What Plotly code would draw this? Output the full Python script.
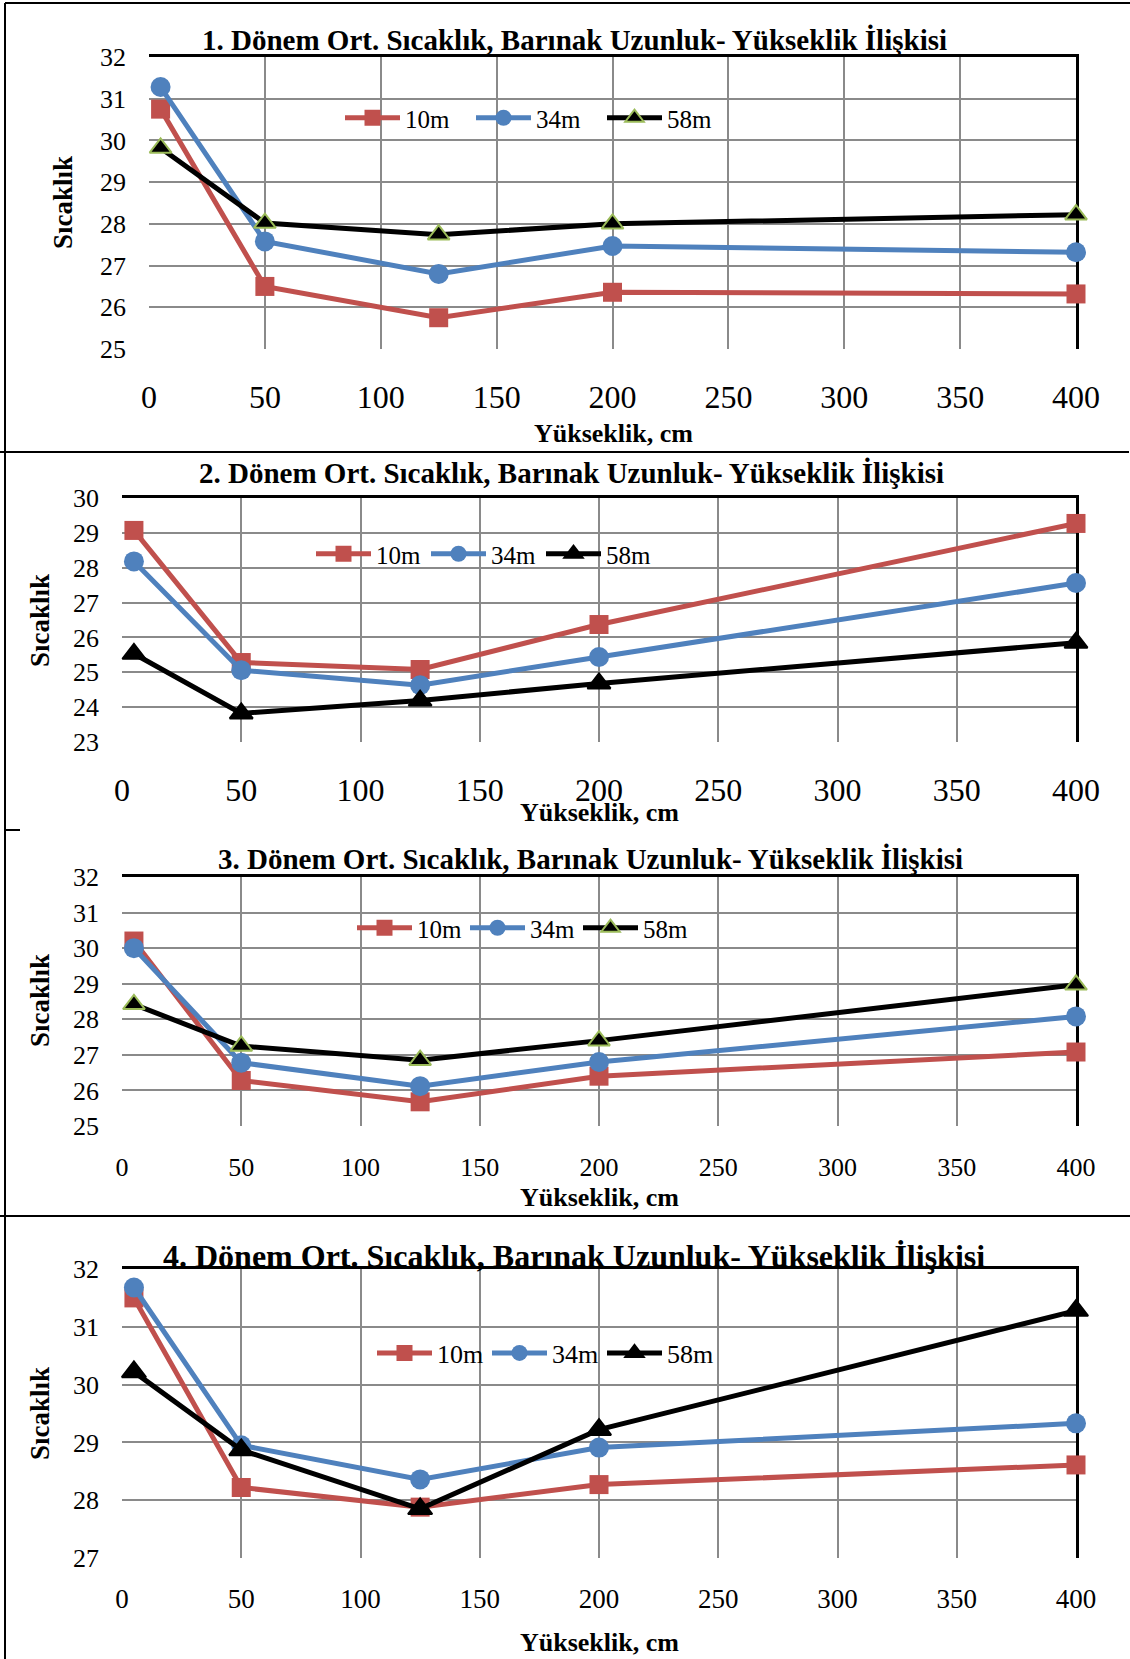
import plotly.graph_objects as go

# Measurement heights (cm) shared by all four periods
heights = [5, 50, 125, 200, 400]
series_names = ["10m", "34m", "58m"]
x_tick_values = [0, 50, 100, 150, 200, 250, 300, 350, 400]

# Period 1 mean temperature by shelter length
p1_10m = [30.75, 26.50, 25.75, 26.36, 26.32]
p1_34m = [31.28, 27.58, 26.80, 27.47, 27.32]
p1_58m = [29.82, 28.02, 27.74, 28.00, 28.22]

# Period 2
p2_10m = [29.07, 25.28, 25.08, 26.37, 29.27]
p2_34m = [28.18, 25.06, 24.63, 25.44, 27.56]
p2_58m = [25.53, 23.82, 24.19, 24.68, 25.85]

# Period 3
p3_10m = [30.20, 26.28, 25.68, 26.40, 27.08]
p3_34m = [30.00, 26.78, 26.12, 26.80, 28.08]
p3_58m = [28.42, 27.25, 26.85, 27.40, 28.97]

# Period 4
p4_10m = [31.50, 28.22, 27.88, 28.27, 28.61]
p4_34m = [31.68, 28.95, 28.36, 28.91, 29.33]
p4_58m = [30.22, 28.87, 27.85, 29.22, 31.28]

titles = [
    "1. Dönem Ort. Sıcaklık, Barınak Uzunluk- Yükseklik İlişkisi",
    "2. Dönem Ort. Sıcaklık, Barınak Uzunluk- Yükseklik İlişkisi",
    "3. Dönem Ort. Sıcaklık, Barınak Uzunluk- Yükseklik İlişkisi",
    "4. Dönem Ort. Sıcaklık, Barınak Uzunluk- Yükseklik İlişkisi",
]
y_title = "Sıcaklık"
x_title = "Yükseklik, cm"

W, H = 1130, 1659
FONT = "Liberation Serif, Times New Roman, serif"
RED, BLUE, BLACK, GREEN = "#C0504D", "#4F81BD", "#000000", "#9BBB59"
GRID = "#8A8A8A"


def fx(p):
    return p / W


def fy(p):
    return 1 - p / H


# page layout of each panel (pixel boxes and styling)
panels = [
    dict(data=(p1_10m, p1_34m, p1_58m), yr=(25, 32), box=(149, 1076, 57, 349),
         tri_line=GREEN, tri_size=19, xfont=32, yfont=26, xstand=26,
         title_xy=(574, 40), title_size=29, ytitle_xy=(63, 203), xtitle_xy=(613, 433),
         legend_xy=(340, 118), entry=61, legfont=25),
    dict(data=(p2_10m, p2_34m, p2_58m), yr=(23, 30), box=(122, 1076, 498, 742),
         tri_line=BLACK, tri_size=20, xfont=32, yfont=26, xstand=26,
         title_xy=(571, 473), title_size=29, ytitle_xy=(40, 621), xtitle_xy=(599, 812),
         legend_xy=(311, 554), entry=None, legfont=25),
    dict(data=(p3_10m, p3_34m, p3_58m), yr=(25, 32), box=(122, 1076, 877, 1126),
         tri_line=GREEN, tri_size=19, xfont=26, yfont=26, xstand=23,
         title_xy=(590, 859), title_size=29, ytitle_xy=(40, 1001), xtitle_xy=(599, 1197),
         legend_xy=(352, 928), entry=43, legfont=25),
    dict(data=(p4_10m, p4_34m, p4_58m), yr=(27, 32), box=(122, 1076, 1269, 1558),
         tri_line=BLACK, tri_size=21, xfont=27, yfont=26, xstand=22,
         title_xy=(574, 1256), title_size=32, ytitle_xy=(40, 1414), xtitle_xy=(599, 1642),
         legend_xy=(372, 1353), entry=45, legfont=26),
]

fig = go.Figure()
annotations = []
shapes = []
layout_axes = {}

for i, pn in enumerate(panels):
    n = "" if i == 0 else str(i + 1)
    xa, ya = "x" + n, "y" + n
    ov = str(i + 5)                  # overlay axes carrying the black top/right frame
    leg = "legend" + n
    left, right, top, bottom = pn["box"]
    s10, s34, s58 = pn["data"]

    # empty trace so the overlay subplot (and its frame lines) is created
    fig.add_trace(go.Scatter(x=[None], y=[None], mode="lines", showlegend=False,
                             hoverinfo="skip", xaxis="x" + ov, yaxis="y" + ov, legend=leg))

    styles = [
        dict(line=dict(color=RED, width=5),
             marker=dict(symbol="square", size=19, color=RED)),
        dict(line=dict(color=BLUE, width=5),
             marker=dict(symbol="circle", size=20, color=BLUE)),
        dict(line=dict(color=BLACK, width=5),
             marker=dict(symbol="triangle-up", size=pn["tri_size"], color=BLACK,
                         line=dict(color=pn["tri_line"], width=2))),
    ]
    for name, vals, st in zip(series_names, (s10, s34, s58), styles):
        fig.add_trace(go.Scatter(
            x=heights, y=vals, name=name, mode="lines+markers",
            line=st["line"], marker=st["marker"], cliponaxis=False,
            xaxis=xa, yaxis=ya, legend=leg,
        ))

    layout_axes["xaxis" + n] = dict(
        domain=[fx(left), fx(right)], anchor=ya, range=[0, 400],
        tickvals=x_tick_values, showgrid=True, gridcolor=GRID, gridwidth=2,
        zeroline=False, showline=False, ticks="", automargin=False,
        tickfont=dict(family=FONT, size=pn["xfont"], color="black"),
        ticklabelstandoff=pn["xstand"], fixedrange=True,
    )
    layout_axes["yaxis" + n] = dict(
        domain=[fy(bottom), fy(top)], anchor=xa, range=list(pn["yr"]),
        dtick=1, showgrid=True, gridcolor=GRID, gridwidth=2,
        zeroline=False, showline=False, ticks="", automargin=False,
        tickfont=dict(family=FONT, size=pn["yfont"], color="black"),
        ticklabelstandoff=22, fixedrange=True,
    )
    # top and right edges of the plot area are drawn in black
    layout_axes["xaxis" + ov] = dict(
        overlaying=xa, anchor="y" + ov, side="top", range=[0, 400], automargin=False,
        showline=True, linecolor="black", linewidth=2.5, layer="below traces",
        showgrid=False, zeroline=False, showticklabels=False, ticks="", fixedrange=True,
    )
    layout_axes["yaxis" + ov] = dict(
        overlaying=ya, anchor="x" + ov, side="right", range=list(pn["yr"]), automargin=False,
        showline=True, linecolor="black", linewidth=2.5, layer="below traces",
        showgrid=False, zeroline=False, showticklabels=False, ticks="", fixedrange=True,
    )

    legend_cfg = dict(
        x=fx(pn["legend_xy"][0]), y=fy(pn["legend_xy"][1]),
        xanchor="left", yanchor="middle", orientation="h",
        bgcolor="rgba(0,0,0,0)", borderwidth=0, itemwidth=55,
        font=dict(family=FONT, size=pn["legfont"], color="black"), traceorder="normal",
    )
    if pn["entry"]:
        legend_cfg.update(entrywidth=pn["entry"], entrywidthmode="pixels")
    layout_axes[leg] = legend_cfg

    tx, ty = pn["title_xy"]
    annotations.append(dict(text="<b>" + titles[i] + "</b>", x=fx(tx), y=fy(ty),
                            xref="paper", yref="paper", xanchor="center", yanchor="middle",
                            showarrow=False,
                            font=dict(family=FONT, size=pn["title_size"], color="black")))
    yx, yy = pn["ytitle_xy"]
    annotations.append(dict(text="<b>" + y_title + "</b>", x=fx(yx), y=fy(yy),
                            xref="paper", yref="paper", xanchor="center", yanchor="middle",
                            textangle=-90, showarrow=False,
                            font=dict(family=FONT, size=27, color="black")))
    xx, xy = pn["xtitle_xy"]
    annotations.append(dict(text="<b>" + x_title + "</b>", x=fx(xx), y=fy(xy),
                            xref="paper", yref="paper", xanchor="center", yanchor="middle",
                            showarrow=False,
                            font=dict(family=FONT, size=26, color="black")))

# outer frame and separators of the figure page
frame = [
    (5, 3, 5, H),          # left border
    (5, 3, W, 3),          # top border
    (0, 452, 1129, 452),   # separator after panel 1
    (5, 830, 20, 830),     # short stub after panel 2
    (0, 1216, W, 1216),    # separator after panel 3
]
for x0, y0, x1, y1 in frame:
    shapes.append(dict(type="line", xref="paper", yref="paper",
                       x0=fx(x0), y0=fy(y0), x1=fx(x1), y1=fy(y1),
                       line=dict(color="black", width=2)))

fig.update_layout(
    width=W, height=H, margin=dict(l=0, r=0, t=0, b=0, autoexpand=False),
    paper_bgcolor="white", plot_bgcolor="white",
    showlegend=True, annotations=annotations, shapes=shapes,
    **layout_axes,
)

fig.write_html("out.html")
